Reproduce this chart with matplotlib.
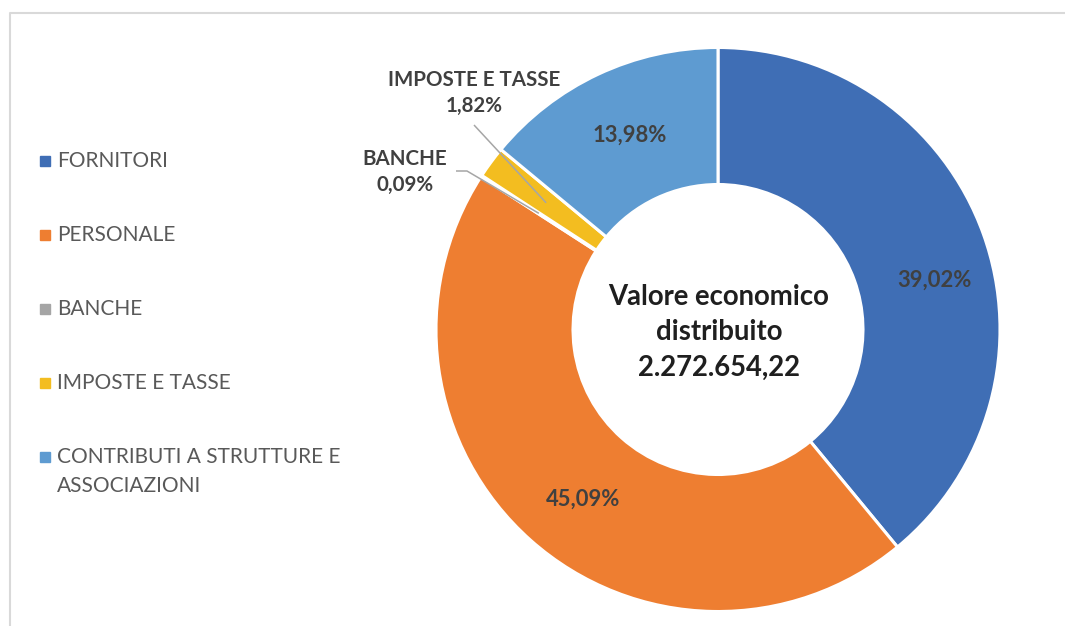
import numpy as np
import matplotlib.pyplot as plt

# data
categories = ["FORNITORI", "PERSONALE", "BANCHE", "IMPOSTE E TASSE",
              "CONTRIBUTI A STRUTTURE E\nASSOCIAZIONI"]
shares = [39.02, 45.09, 0.09, 1.82, 13.98]
colors = ["#3f6eb5", "#ee7e31", "#a5a5a5", "#f3bd20", "#5e9bd1"]
total_label = "2.272.654,22"
outside = ["BANCHE", "IMPOSTE E TASSE"]

W, H = 1065, 626
plt.rcParams["font.family"] = ["Lato", "DejaVu Sans"]

fig = plt.figure(figsize=(W / 100, H / 100), dpi=100)
ax = fig.add_axes([0, 0, 1, 1])

wedges, _ = ax.pie(
    shares,
    colors=colors,
    startangle=90,
    counterclock=False,
    radius=282,
    center=(718, H - 329.5),
    wedgeprops=dict(width=137, edgecolor="white", linewidth=2.2),
)
ax.set_xlim(0, W)
ax.set_ylim(0, H)
ax.set_aspect("equal")
ax.axis("off")


def fmt(v):
    return f"{v:.2f}".replace(".", ",") + "%"


# label nudges in pixels (Excel does not put them exactly at mid angle)
nudge = {"FORNITORI": (16, -23), "PERSONALE": (7, -10)}
txt_pos = {"BANCHE": (405, H - 172), "IMPOSTE E TASSE": (474, H - 93)}

for w, cat, v in zip(wedges, categories, shares):
    mid = np.deg2rad((w.theta1 + w.theta2) / 2)
    rm = w.r - w.width / 2
    px = w.center[0] + rm * np.cos(mid)
    py = w.center[1] + rm * np.sin(mid)
    if cat in outside:
        tx, ty = txt_pos[cat]
        ax.text(tx, ty, f"{cat}\n{fmt(v)}", ha="center", va="center",
                fontsize=14.8, fontweight="bold", color="#404040",
                linespacing=1.35)
        if cat == "BANCHE":
            xs = [tx + 51, tx + 62, px]
            ys = [ty + 1, ty + 1, py]
        else:
            xs = [tx, px]
            ys = [ty - 32, py]
        ax.plot(xs, ys, color="#a6a6a6", lw=1.1, solid_capstyle="butt")
    else:
        dx, dy = nudge.get(cat, (2, 1))
        ax.text(px + dx, py + dy, fmt(v), ha="center", va="center",
                fontsize=15.8, fontweight="bold", color="#404040")

# text in the hole
ax.text(719, H - 332, "Valore economico\ndistribuito\n" + total_label,
        ha="center", va="center", fontsize=19.8, fontweight="bold",
        color="#1f1f1f", linespacing=1.45)

# legend drawn by hand so the marker sits on the first line
for i, (cat, c) in enumerate(zip(categories, colors)):
    y = H - (161 + 74 * i)
    ax.plot(44.5, y, marker="s", ms=6.5, color=c, mec=c)
    for j, line in enumerate(cat.split("\n")):
        ax.text(57, y - 29 * j, line, ha="left", va="center",
                fontsize=15, color="#595959")

# light chart-area frame
ax.plot([10, 10, W], [0, H - 13, H - 13], color="#d9d9d9", lw=1.5)

fig.savefig("out.png", dpi=100)
